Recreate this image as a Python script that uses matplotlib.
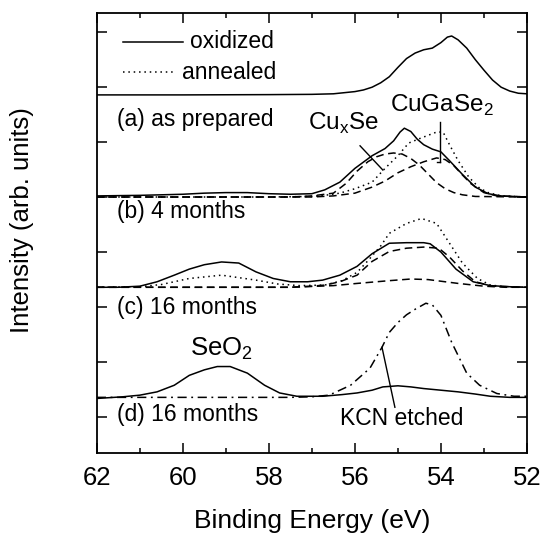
import numpy as np
import matplotlib
matplotlib.use('Agg')
import matplotlib.pyplot as plt

plt.rcParams['font.family'] = ['Liberation Sans', 'DejaVu Sans']
plt.rcParams['mathtext.fontset'] = 'custom'
plt.rcParams['mathtext.rm'] = 'Liberation Sans'

# baselines of the stacked spectra (axis units)
offsets = [6.855, 5.0, 3.36, 1.36]

# top spectrum (oxidized reference)
E_top = [62, 60, 58, 57, 56.5, 56.0, 55.8, 55.6, 55.4, 55.2, 55.0, 54.8, 54.6, 54.4, 54.2,
         54.0, 53.85, 53.75, 53.6, 53.4, 53.2, 53.0, 52.8, 52.6, 52.4, 52.2, 52.0]
h_top = [0, 0, 0.005, 0.01, 0.02, 0.06, 0.09, 0.14, 0.22, 0.33, 0.50, 0.66, 0.76, 0.82, 0.85,
         0.95, 1.05, 1.07, 1.0, 0.85, 0.64, 0.45, 0.27, 0.14, 0.07, 0.03, 0.02]

# (a) as prepared
E_a = [62, 61, 60, 59.5, 59, 58.5, 58, 57.5, 57, 56.7, 56.35, 56.0, 55.6, 55.3, 55.1, 54.95,
       54.85, 54.7, 54.55, 54.4, 54.2, 54.0, 53.8, 53.5, 53.2, 52.9, 52.6, 52.3, 52.0]
h_a = [0.02, 0.03, 0.05, 0.07, 0.08, 0.08, 0.06, 0.05, 0.06, 0.13, 0.27, 0.52, 0.75, 0.88, 1.02,
       1.18, 1.25, 1.19, 1.05, 0.95, 0.87, 0.82, 0.66, 0.41, 0.18, 0.06, 0.02, 0.01, 0.0]
E_ad = [62, 58, 57, 56.6, 56.35, 56.0, 55.6, 55.3, 55.0, 54.75, 54.5, 54.3, 54.1, 53.95, 53.8,
        53.6, 53.35, 53.1, 52.9, 52.6, 52.0]
h_ad = [0, 0, 0.01, 0.04, 0.07, 0.15, 0.27, 0.52, 0.75, 0.98, 1.06, 1.12, 1.18, 1.18, 0.95,
        0.66, 0.36, 0.16, 0.08, 0.02, 0]
E_a1 = [62, 57.5, 57, 56.5, 56.2, 55.95, 55.7, 55.5, 55.3, 55.1, 54.9, 54.7, 54.5, 54.3, 54.1,
        53.9, 53.7, 53.5, 53.2, 52]
h_a1 = [0, 0, 0.02, 0.07, 0.25, 0.47, 0.64, 0.73, 0.78, 0.8, 0.78, 0.7, 0.58, 0.42, 0.26,
        0.15, 0.08, 0.04, 0.01, 0]
E_a2 = [62, 57, 56.5, 56.0, 55.6, 55.3, 55.0, 54.7, 54.4, 54.1, 53.9, 53.7, 53.5, 53.3, 53.0,
        52.7, 52.0]
h_a2 = [0, 0, 0.02, 0.07, 0.18, 0.29, 0.44, 0.55, 0.64, 0.71, 0.68, 0.57, 0.4, 0.24, 0.08,
        0.02, 0]

# (b) 4 months
E_b = [62, 61.5, 61.0, 60.6, 60.2, 59.85, 59.5, 59.1, 58.7, 58.3, 57.9, 57.5, 57.1, 56.75,
       56.35, 55.95, 55.6, 55.2, 54.8, 54.4, 54.25, 54.0, 53.65, 53.25, 52.85, 52.4, 52.0]
h_b = [0.0, 0.0, 0.02, 0.1, 0.22, 0.33, 0.41, 0.46, 0.44, 0.28, 0.16, 0.10, 0.10, 0.13,
       0.22, 0.38, 0.61, 0.80, 0.81, 0.81, 0.79, 0.64, 0.33, 0.10, 0.03, 0.01, 0]
E_bd = [62, 61, 60.5, 59.85, 59.1, 58.3, 57.8, 57.3, 56.7, 56.3, 55.95, 55.7, 55.4, 55.2, 54.8,
        54.45, 54.1, 53.8, 53.5, 53.15, 52.85, 52.5, 52]
h_bd = [0, 0.01, 0.05, 0.16, 0.22, 0.13, 0.06, 0.03, 0.04, 0.12, 0.27, 0.48, 0.75, 0.98, 1.16,
        1.25, 1.16, 0.80, 0.44, 0.16, 0.04, 0.01, 0]
E_b1 = [62, 57.5, 57, 56.7, 56.35, 55.95, 55.6, 55.2, 54.8, 54.4, 54.05, 53.8, 53.5, 53.2,
        52.8, 52]
h_b1 = [0, 0, 0.02, 0.04, 0.10, 0.22, 0.47, 0.65, 0.71, 0.73, 0.71, 0.55, 0.3, 0.1, 0.02, 0]
E_b2 = [62, 57.5, 56.5, 55.95, 55.2, 54.7, 54.3, 53.6, 53.0, 52.5, 52]
h_b2 = [0, 0, 0.03, 0.07, 0.12, 0.15, 0.14, 0.07, 0.02, 0, 0]

# (c) 16 months and (d) 16 months KCN etched
E_c = [62, 61.4, 61.0, 60.6, 60.2, 59.85, 59.5, 59.2, 58.9, 58.5, 58.1, 57.75, 57.35, 56.75,
       56.3, 55.95, 55.6, 55.35, 55.0, 54.7, 54.4, 54.0, 53.6, 53.2, 52.85, 52.4, 52]
h_c = [-0.02, 0.01, 0.04, 0.1, 0.22, 0.4, 0.5, 0.56, 0.56, 0.44, 0.22, 0.08, 0.02, 0.02,
       0.05, 0.08, 0.13, 0.19, 0.21, 0.19, 0.16, 0.13, 0.10, 0.06, 0.02, 0.0, 0.0]
E_d = [62, 57.5, 57.0, 56.6, 56.1, 55.65, 55.37, 55.2, 55.0, 54.8, 54.6, 54.35, 54.2, 54.0,
       53.75, 53.55, 53.4, 53.1, 52.7, 52.3, 52]
h_d = [0, 0, 0.01, 0.04, 0.22, 0.53, 0.91, 1.18, 1.36, 1.5, 1.6, 1.71, 1.68, 1.49,
       1.0, 0.68, 0.44, 0.22, 0.07, 0.02, 0.02]

panel_labels = ['(a) as prepared', '(b) 4 months', '(c) 16 months', '(d) 16 months']
label_y = [6.4, 4.73, 3.0, 1.04]

dot = (0, (1, 2.5))
dash = (0, (5, 3))
dashdot = (0, (6, 3, 1.2, 3))

fig = plt.figure(figsize=(5.41, 5.37), dpi=100)
ax = fig.add_axes([0.179, 0.156, 0.795, 0.82])

lw = 1.1
ax.plot(E_top, np.array(h_top) + offsets[0], color='k', lw=lw)

ax.plot(E_a, np.array(h_a) + offsets[1], color='k', lw=lw)
ax.plot(E_ad, np.array(h_ad) + offsets[1], color='k', lw=lw, ls=dot)
ax.plot(E_a1, np.array(h_a1) + offsets[1], color='k', lw=lw, ls=dash)
ax.plot(E_a2, np.array(h_a2) + offsets[1], color='k', lw=lw, ls=dash)

ax.plot(E_b, np.array(h_b) + offsets[2], color='k', lw=lw)
ax.plot(E_bd, np.array(h_bd) + offsets[2], color='k', lw=lw, ls=dot)
ax.plot(E_b1, np.array(h_b1) + offsets[2], color='k', lw=lw, ls=dash)
ax.plot(E_b2, np.array(h_b2) + offsets[2], color='k', lw=lw, ls=dash)

ax.plot(E_c, np.array(h_c) + offsets[3], color='k', lw=lw)
ax.plot(E_d, np.array(h_d) + offsets[3], color='k', lw=lw, ls=dashdot)

# legend drawn by hand
ax.plot([61.4, 60.0], [7.82, 7.82], color='k', lw=lw)
ax.text(59.84, 7.82, 'oxidized', fontsize=16.5, va='center', ha='left')
ax.plot([61.4, 60.19], [7.27, 7.27], color='k', lw=lw, ls=dot)
ax.text(60.02, 7.27, 'annealed', fontsize=16.5, va='center', ha='left')

for lab, yy in zip(panel_labels, label_y):
    ax.text(61.52, yy, lab, fontsize=16.5, va='center', ha='left')

ax.text(57.09, 6.33, r'Cu$_\mathregular{x}$Se', fontsize=17.5, va='center', ha='left')
ax.text(55.19, 6.67, r'CuGaSe$_\mathregular{2}$', fontsize=17.5, va='center', ha='left')
ax.text(59.84, 2.25, r'SeO$_\mathregular{2}$', fontsize=18.5, va='center', ha='left')
ax.text(56.35, 0.98, 'KCN etched', fontsize=16.5, va='center', ha='left')

ax.plot([55.88, 55.35], [5.93, 5.49], color='k', lw=1.0)
ax.plot([54.02, 54.02], [6.36, 5.64], color='k', lw=1.0)
ax.plot([54.1, 54.02], [5.64, 5.64], color='k', lw=1.0)
ax.plot([55.37, 55.07], [2.27, 1.18], color='k', lw=1.0)

ax.set_xlim(62, 52)
ax.set_ylim(0.345, 8.345)
ax.set_xticks([62, 60, 58, 56, 54, 52])
ax.set_xticks([61, 59, 57, 55, 53], minor=True)
ax.set_yticks(range(1, 9))
ax.set_yticklabels([])
ax.tick_params(which='both', direction='in', top=True, right=True, width=1.1)
ax.tick_params(which='major', length=7, labelsize=18.5, pad=9)
ax.tick_params(which='minor', length=3.5)
for s in ax.spines.values():
    s.set_linewidth(1.3)

ax.set_xlabel('Binding Energy (eV)', fontsize=19, labelpad=14)
ax.set_ylabel('Intensity (arb. units)', fontsize=18.5)
ax.yaxis.set_label_coords(-0.147, 0.53)

fig.savefig('out.png', dpi=100)
